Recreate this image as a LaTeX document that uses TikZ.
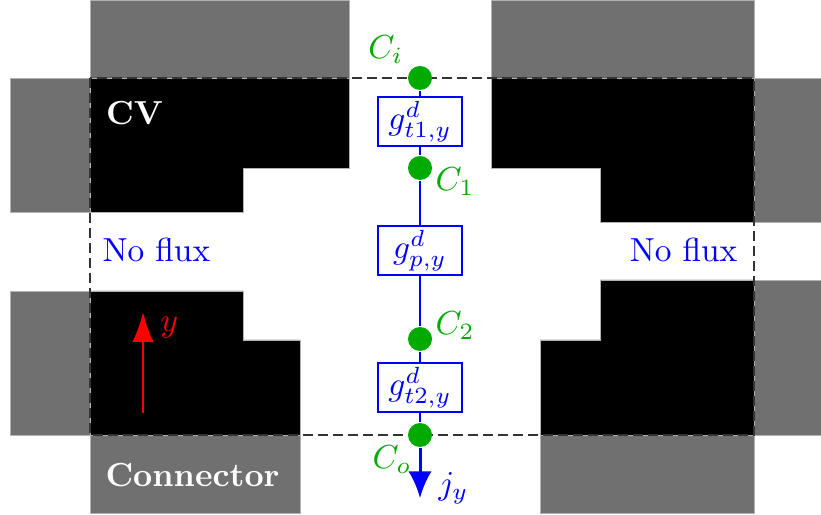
\documentclass[tikz,border=0pt]{standalone}
\usetikzlibrary{arrows.meta}
\definecolor{cgreen}{RGB}{0,170,0}
\definecolor{blockgray}{RGB}{112,112,112}
\tikzset{
  solid block/.style={fill=black, draw=gray!60, line width=0.2pt},
  ghost block/.style={fill=blockgray, draw=gray!60, line width=0.2pt},
  conc/.style={circle, fill=cgreen, minimum size=7.2pt, inner sep=0pt},
  gbox/.style={draw=blue, line width=0.7pt, text=blue, minimum width=25.2pt, minimum height=14.7pt, inner sep=0pt},
  clabel/.style={text=cgreen, inner sep=0pt},
  cell text/.style={white, font=\bfseries, inner sep=0pt},
}
\begin{document}
\begin{tikzpicture}[x=0.3pt, y=-0.3pt]
                \useasboundingbox (0,0) rectangle (821,515);
                % neighbouring cells
                \draw[ghost block] (90,0) rectangle (349,78);
                \draw[ghost block] (10.7,78) rectangle (90,212);
                \draw[ghost block] (491,0) rectangle (754,78);
                \draw[ghost block] (754,78) rectangle (821,222);
                \draw[ghost block] (10.7,291) rectangle (90,435);
                \draw[ghost block] (90,435) rectangle (300,513);
                \draw[ghost block] (754,280) rectangle (821,435);
                \draw[ghost block] (540,435) rectangle (754,513);

                % control volume walls
                \draw[solid block] (90,78) -- (349,78) -- (349,168) -- (243,168) -- (243,212) -- (90,212) -- cycle;
                \draw[solid block] (491,78) -- (754,78) -- (754,222) -- (600,222) -- (600,168) -- (491,168) -- cycle;
                \draw[solid block] (90,291) -- (243,291) -- (243,340) -- (300,340) -- (300,435) -- (90,435) -- cycle;
                \draw[solid block] (600,280) -- (754,280) -- (754,435) -- (540,435) -- (540,340) -- (600,340) -- cycle;

                \draw[black!80, dash pattern=on 3pt off 1.5pt] (90,78) rectangle (754,435);

                \node[cell text] (cv) at (134.5,113.5) {CV};
                \node[cell text] (connector) at (192.5,475.5) {Connector};
                \node[blue, anchor=west, inner sep=0pt] (nofluxl) at (102,250) {No flux};
                \node[blue, anchor=east, inner sep=0pt] (nofluxr) at (738,250) {No flux};

                % y direction
                \coordinate (ytail) at (143,413);
                \coordinate (yhead) at (143,312);
                \draw[red, line width=0.85pt, -{Latex[length=9pt,width=6.5pt]}] (ytail) -- (yhead);
                \node[red, anchor=west, inner sep=0pt] (ylab) at (160,328) {$y$};

                % conductance chain
                \node[conc] (ci) at (420,78) {};
                \node[gbox] (gt1) at (420,121.5) {$g^d_{t1,y}$};
                \node[conc] (c1) at (420,168) {};
                \node[gbox] (gp) at (420,250.5) {$g^d_{p,y}$};
                \node[conc] (c2) at (420,339) {};
                \node[gbox] (gt2) at (420,387.5) {$g^d_{t2,y}$};
                \node[conc] (co) at (420,435) {};
                \draw[blue, line width=0.7pt] (ci) -- (gt1) -- (c1) -- (gp) -- (c2) -- (gt2) -- (co);

                \node[clabel, anchor=south east] (cil) at ([shift={(-16,-14)}]ci.center) {$C_i$};
                \node[clabel, anchor=west] (c1l) at ([shift={(15,14)}]c1.center) {$C_1$};
                \node[clabel, anchor=south west] (c2l) at ([shift={(15,1)}]c2.center) {$C_2$};
                \node[clabel, anchor=north east] (col) at ([shift={(-8,10)}]co.center) {$C_o$};

                % outgoing flux
                \coordinate (jend) at (420,498);
                \draw[blue, line width=0.9pt, -{Latex[length=8pt,width=7pt]}] (co) -- (jend);
                \node[blue, anchor=north west, inner sep=0pt] (jl) at ([shift={(18,-26)}]jend) {$j_y$};
\end{tikzpicture}
\end{document}
